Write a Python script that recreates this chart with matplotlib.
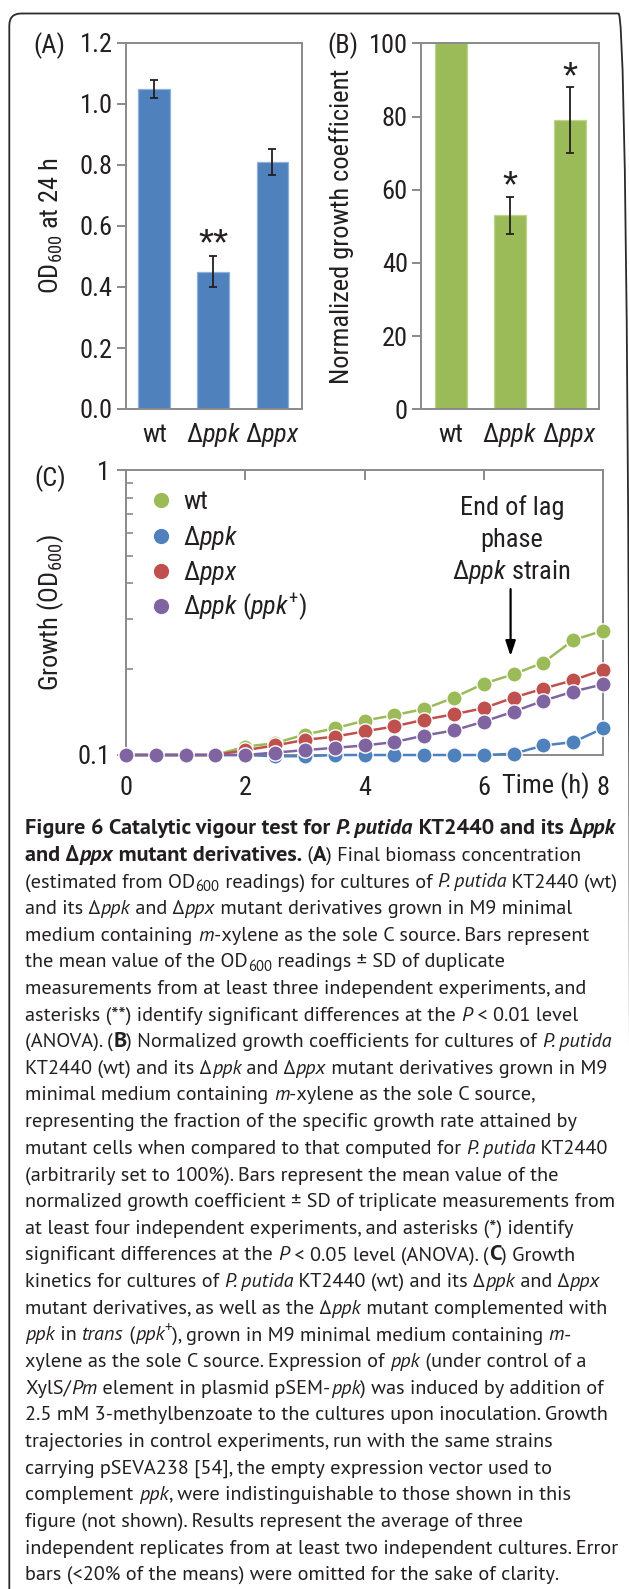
import matplotlib
matplotlib.use('Agg')
import numpy as np
import matplotlib.pyplot as plt
import matplotlib.font_manager as fm
from matplotlib.font_manager import FontProperties
from matplotlib.patches import FancyBboxPatch
from matplotlib.transforms import IdentityTransform, blended_transform_factory
from matplotlib.ticker import FixedLocator, FixedFormatter, NullFormatter

# ---------------- data ----------------
strains = ['wt', 'ppk', 'ppx']
strain_labels = ['wt', r'Δ$\mathit{ppk}$', r'Δ$\mathit{ppx}$']

od600_24h = [1.05, 0.45, 0.81]
od600_24h_sd = [0.03, 0.05, 0.043]
sig_a = ['', '**', '']
a_yticks = [0.0, 0.2, 0.4, 0.6, 0.8, 1.0, 1.2]

growth_coef = [100, 53, 79]
growth_coef_sd = [0, 5, 9]
sig_b = ['', '*', '*']
b_yticks = [0, 20, 40, 60, 80, 100]

time_h = [0, 0.5, 1, 1.5, 2, 2.5, 3, 3.5, 4, 4.5, 5, 5.5, 6, 6.5, 7, 7.5, 8]
od_wt = [0.100, 0.100, 0.100, 0.100, 0.107, 0.110, 0.118, 0.124, 0.132, 0.138,
         0.145, 0.159, 0.178, 0.192, 0.211, 0.253, 0.273]
od_ppk = [0.100, 0.100, 0.100, 0.100, 0.100, 0.099, 0.099, 0.100, 0.100, 0.100,
          0.100, 0.100, 0.100, 0.101, 0.108, 0.111, 0.124]
od_ppx = [0.100, 0.100, 0.100, 0.100, 0.104, 0.108, 0.113, 0.116, 0.121, 0.126,
          0.133, 0.139, 0.146, 0.159, 0.171, 0.183, 0.199]
od_ppk_comp = [0.100, 0.100, 0.100, 0.100, 0.100, 0.102, 0.104, 0.106, 0.108, 0.111,
               0.117, 0.122, 0.131, 0.142, 0.155, 0.167, 0.177]
c_series_labels = ['wt', r'Δ$\mathit{ppk}$', r'Δ$\mathit{ppx}$',
                   r'Δ$\mathit{ppk}$ ($\mathit{ppk}^{+}$)']
c_xticks = [0, 2, 4, 6, 8]
c_xticklabels = ['0', '2', '4', '6', '8']
c_yticks = [0.1, 1]
c_yticklabels = ['0.1', '1']
c_minor_yticks = [0.2, 0.3, 0.4, 0.5, 0.6, 0.7, 0.8, 0.9]
lag_end_time = 6.5
annotation_lines = ['End of lag', 'phase', r'Δ$\mathit{ppk}$ strain']

caption_lines = [
    [("Figure 6 Catalytic vigour test for ", 'b'), ("P. putida", 'bi'), (" KT2440 and its Δ", 'b'), ("ppk", 'bi')],
    [("and Δ", 'b'), ("ppx", 'bi'), (" mutant derivatives.", 'b'), (" (", 'r'), ("A", 'b'), (") Final biomass concentration", 'r')],
    [("(estimated from OD", 'r'), ("600", 'sub'), (" readings) for cultures of ", 'r'), ("P. putida", 'i'), (" KT2440 (wt)", 'r')],
    [("and its Δ", 'r'), ("ppk", 'i'), (" and Δ", 'r'), ("ppx", 'i'), (" mutant derivatives grown in M9 minimal", 'r')],
    [("medium containing ", 'r'), ("m", 'i'), ("-xylene as the sole C source. Bars represent", 'r')],
    [("the mean value of the OD", 'r'), ("600", 'sub'), (" readings ± SD of duplicate", 'r')],
    [("measurements from at least three independent experiments, and", 'r')],
    [("asterisks (**) identify significant differences at the ", 'r'), ("P", 'i'), (" < 0.01 level", 'r')],
    [("(ANOVA). (", 'r'), ("B", 'b'), (") Normalized growth coefficients for cultures of ", 'r'), ("P. putida", 'i')],
    [("KT2440 (wt) and its Δ", 'r'), ("ppk", 'i'), (" and Δ", 'r'), ("ppx", 'i'), (" mutant derivatives grown in M9", 'r')],
    [("minimal medium containing ", 'r'), ("m", 'i'), ("-xylene as the sole C source,", 'r')],
    [("representing the fraction of the specific growth rate attained by", 'r')],
    [("mutant cells when compared to that computed for ", 'r'), ("P. putida", 'i'), (" KT2440", 'r')],
    [("(arbitrarily set to 100%). Bars represent the mean value of the", 'r')],
    [("normalized growth coefficient ± SD of triplicate measurements from", 'r')],
    [("at least four independent experiments, and asterisks (*) identify", 'r')],
    [("significant differences at the ", 'r'), ("P", 'i'), (" < 0.05 level (ANOVA). (", 'r'), ("C", 'b'), (") Growth", 'r')],
    [("kinetics for cultures of ", 'r'), ("P. putida", 'i'), (" KT2440 (wt) and its Δ", 'r'), ("ppk", 'i'), (" and Δ", 'r'), ("ppx", 'i')],
    [("mutant derivatives, as well as the Δ", 'r'), ("ppk", 'i'), (" mutant complemented with", 'r')],
    [("ppk", 'i'), (" in ", 'r'), ("trans", 'i'), (" (", 'r'), ("ppk", 'i'), ("+", 'sup'), ("), grown in M9 minimal medium containing ", 'r'), ("m", 'i'), ("-", 'r')],
    [("xylene as the sole C source. Expression of ", 'r'), ("ppk", 'i'), (" (under control of a", 'r')],
    [("XylS/", 'r'), ("Pm", 'i'), (" element in plasmid pSEM-", 'r'), ("ppk", 'i'), (") was induced by addition of", 'r')],
    [("2.5 mM 3-methylbenzoate to the cultures upon inoculation. Growth", 'r')],
    [("trajectories in control experiments, run with the same strains", 'r')],
    [("carrying pSEVA238 [54], the empty expression vector used to", 'r')],
    [("complement ", 'r'), ("ppk", 'i'), (", were indistinguishable to those shown in this", 'r')],
    [("figure (not shown). Results represent the average of three", 'r')],
    [("independent replicates from at least two independent cultures. Error", 'r')],
    [("bars (<20% of the means) were omitted for the sake of clarity.", 'r')],
]

# ---------------- fonts ----------------
W, H, DPI = 629, 1589, 100


def _w(v):
    try:
        return int(v)
    except Exception:
        return {'bold': 700, 'normal': 400, 'regular': 400}.get(str(v).lower(), 400)


def full_family(name):
    ent = [f for f in fm.fontManager.ttflist if f.name == name]
    if not ent:
        return False
    ok_r = any(f.style == 'normal' and _w(f.weight) < 600 for f in ent)
    ok_b = any(f.style == 'normal' and _w(f.weight) >= 600 for f in ent)
    ok_i = any(f.style in ('italic', 'oblique') and _w(f.weight) < 600 for f in ent)
    ok_bi = any(f.style in ('italic', 'oblique') and _w(f.weight) >= 600 for f in ent)
    return ok_r and ok_b and ok_i and ok_bi


def pick(cands, default):
    for c in cands:
        if full_family(c):
            return c
    return default


CHART_FONT = pick(['Liberation Sans Narrow', 'Arial Narrow', 'Roboto Condensed',
                   'Archivo Narrow', 'PT Sans Narrow'], 'Liberation Sans')
CAP_FONT = pick(['Source Sans Pro', 'Source Sans 3', 'PT Sans', 'Open Sans'], 'Lato')

plt.rcParams['font.family'] = [CHART_FONT, 'DejaVu Sans']
plt.rcParams['mathtext.fontset'] = 'custom'
plt.rcParams['mathtext.rm'] = CHART_FONT
plt.rcParams['mathtext.it'] = CHART_FONT + ':italic'
plt.rcParams['mathtext.bf'] = CHART_FONT + ':bold'
plt.rcParams['mathtext.fallback'] = 'stixsans'

TXT = '#231F20'
GRAY = '#8A8A8A'
BLUE, BLUE_E = '#4F81BD', '#8EB0DA'
GREEN, GREEN_E = '#9BBB59', '#BCD48E'
RED = '#C0504D'
PURPLE = '#8064A2'
FS = 19
SPW = 1.4

fig = plt.figure(figsize=(W / DPI, H / DPI), dpi=DPI)
fig.patch.set_facecolor('white')

border = FancyBboxPatch((9.3, -40), 630.5 - 9.3, (H - 13.5) + 40,
                        boxstyle='round,pad=0,rounding_size=12',
                        transform=IdentityTransform(), fill=False,
                        ec='#2b2b2b', lw=1.3)
fig.patches.append(border)


def style_box_axes(ax):
    for sp in ax.spines.values():
        sp.set_color(GRAY)
        sp.set_linewidth(SPW)
    ax.tick_params(axis='y', direction='out', length=6.5, width=SPW, color=GRAY,
                   labelsize=FS, labelcolor=TXT, pad=3)
    ax.tick_params(axis='x', length=0, labelbottom=False)


def draw_xlabels(ax, labels, y_frac):
    tr = blended_transform_factory(ax.transData, ax.transAxes)
    for i, lab in enumerate(labels):
        ax.text(i, y_frac, lab, transform=tr, ha='center', va='baseline',
                fontsize=FS, color=TXT, clip_on=False)


xs = np.arange(len(strains))

# ---------------- panel A ----------------
axA = fig.add_axes([126 / W, 1 - 409 / H, 176 / W, 366 / H])
axA.bar(xs, od600_24h, width=0.54, color=BLUE, edgecolor=BLUE_E, linewidth=0.9, zorder=2)
axA.errorbar(xs, od600_24h, yerr=od600_24h_sd, fmt='none', ecolor=TXT,
             elinewidth=1.3, capsize=3.2, capthick=1.3, zorder=3)
axA.set_xlim(-0.48, 2.5)
axA.set_ylim(0, 1.2)
axA.set_yticks(a_yticks)
axA.set_yticklabels([f'{v:.1f}' for v in a_yticks])
style_box_axes(axA)
draw_xlabels(axA, strain_labels, -0.0893)
for i, s in enumerate(sig_a):
    if s:
        axA.annotate(s, xy=(xs[i], od600_24h[i] + od600_24h_sd[i]), xytext=(0, 0.5),
                     textcoords='offset points', ha='center', va='baseline',
                     fontsize=28, family='Liberation Sans', color=TXT)
axA.set_ylabel(r'OD$_{600}$ at 24 h', fontsize=FS, color=TXT)
axA.yaxis.set_label_coords(-0.426, 0.5)
axA.yaxis.label.set_verticalalignment('center')

# ---------------- panel B ----------------
axB = fig.add_axes([421 / W, 1 - 409.3 / H, 178.3 / W, 366 / H])
axB.bar(xs, growth_coef, width=0.54, color=GREEN, edgecolor=GREEN_E, linewidth=0.9, zorder=2)
idx = [i for i in range(len(strains)) if growth_coef_sd[i] > 0]
axB.errorbar([xs[i] for i in idx], [growth_coef[i] for i in idx],
             yerr=[growth_coef_sd[i] for i in idx], fmt='none', ecolor=TXT,
             elinewidth=1.3, capsize=3.2, capthick=1.3, zorder=3)
axB.set_xlim(-0.5, 2.5)
axB.set_ylim(0, 100)
axB.set_yticks(b_yticks)
axB.set_yticklabels([str(v) for v in b_yticks])
style_box_axes(axB)
draw_xlabels(axB, strain_labels, -0.0885)
for i, s in enumerate(sig_b):
    if s:
        axB.annotate(s, xy=(xs[i], growth_coef[i] + growth_coef_sd[i]), xytext=(0, -0.5),
                     textcoords='offset points', ha='center', va='baseline',
                     fontsize=28, family='Liberation Sans', color=TXT)
axB.set_ylabel('Normalized growth coefficient', fontsize=FS, color=TXT)
axB.yaxis.set_label_coords(-0.443, 0.5)
axB.yaxis.label.set_verticalalignment('center')

# ---------------- panel C ----------------
axC = fig.add_axes([126 / W, 1 - 755 / H, 477 / W, 285 / H])
axC.set_yscale('log')
series = [(od_wt, GREEN), (od_ppk, BLUE), (od_ppx, RED), (od_ppk_comp, PURPLE)]
for vals, col in series:
    axC.plot(time_h, vals, '-o', color=col, lw=1.8, ms=11, mfc=col, mec='white',
             mew=1.0, clip_on=False, zorder=4)
axC.set_xlim(0, 8)
axC.set_ylim(0.1, 1)
for sp in axC.spines.values():
    sp.set_color(GRAY)
    sp.set_linewidth(SPW)
    sp.set_zorder(1)
axC.yaxis.set_major_locator(FixedLocator(c_yticks))
axC.yaxis.set_major_formatter(FixedFormatter(c_yticklabels))
axC.yaxis.set_minor_locator(FixedLocator(c_minor_yticks))
axC.yaxis.set_minor_formatter(NullFormatter())
axC.tick_params(axis='y', which='major', direction='out', length=6.5, width=SPW,
                color=GRAY, labelsize=FS, labelcolor=TXT, pad=5, right=False)
axC.tick_params(axis='y', which='minor', direction='in', length=5, width=1.2,
                color=GRAY, right=False)
axC.xaxis.set_major_locator(FixedLocator(c_xticks))
axC.xaxis.set_major_formatter(FixedFormatter(c_xticklabels))
axC.xaxis.set_minor_locator(FixedLocator([7.04]))
axC.xaxis.set_minor_formatter(FixedFormatter(['Time (h)']))
axC.tick_params(axis='x', which='major', direction='in', length=7, width=SPW,
                color=GRAY, top=True, bottom=False, labelsize=FS, labelcolor=TXT, pad=15)
axC.tick_params(axis='x', which='minor', length=0, top=False, bottom=False,
                labelsize=FS, labelcolor=TXT, pad=12.5)
axC.set_ylabel(r'Growth (OD$_{600}$)', fontsize=FS, color=TXT)
axC.yaxis.set_label_coords(-0.159, 0.5)
axC.yaxis.label.set_verticalalignment('center')

leg_rows = [0.8947, 0.7684, 0.6456, 0.5228]
for (vals, col), lab, yy in zip(series, c_series_labels, leg_rows):
    axC.plot([0.0734], [yy], 'o', transform=axC.transAxes, ms=12, mfc=col,
             mec='white', mew=1.0, clip_on=False)
    axC.text(0.1195, yy - 8.5 / 285, lab, transform=axC.transAxes, ha='left',
             va='baseline', fontsize=FS, color=TXT)

trC = blended_transform_factory(axC.transData, axC.transAxes)
for line, yy in zip(annotation_lines, [0.842, 0.730, 0.618]):
    axC.text(lag_end_time - 0.03, yy, line, transform=trC, ha='center', va='baseline',
             fontsize=FS, color=TXT)
axC.annotate('', xy=(lag_end_time - 0.05, 0.347), xycoords=trC,
             xytext=(lag_end_time - 0.05, 0.582), textcoords=trC,
             arrowprops=dict(arrowstyle='-|>,head_length=0.9,head_width=0.3',
                             color='black', lw=1.6, shrinkA=0, shrinkB=0))

fig.text(33 / W, 1 - 53 / H, '(A)', fontsize=FS, color=TXT, va='baseline', ha='left')
fig.text(327 / W, 1 - 53 / H, '(B)', fontsize=FS, color=TXT, va='baseline', ha='left')
fig.text(34 / W, 1 - 486 / H, '(C)', fontsize=FS, color=TXT, va='baseline', ha='left')

# ---------------- caption ----------------
renderer = fig.canvas.get_renderer()
px_per_pt = DPI / 72.0


def cap_prop(style, size):
    weight = 'bold' if style in ('b', 'bi') else 'normal'
    fstyle = 'italic' if style in ('i', 'bi') else 'normal'
    return FontProperties(family=[CAP_FONT, 'DejaVu Sans'], size=size,
                          weight=weight, style=fstyle)


def seg_width(s, prop):
    w1, _, _ = renderer.get_text_width_height_descent('|' + s + '|', prop, ismath=False)
    w0, _, _ = renderer.get_text_width_height_descent('||', prop, ismath=False)
    return w1 - w0


# caption sizes chosen so full lines span the same width as in the figure
TARGET_W_REGULAR = 562.0   # line 7 (all regular)
TARGET_W_BOLD = 590.0      # line 1 (all bold)
w_probe = seg_width(caption_lines[6][0][0], cap_prop('r', 12.0))
CAP_SIZE = 12.0 * TARGET_W_REGULAR / w_probe
w_bold = sum(seg_width(s, cap_prop(st, 12.0)) for s, st in caption_lines[0])
BOLD_SIZE = 12.0 * TARGET_W_BOLD / w_bold

x_start = 25.4
base0 = 834.0
pitch = 26.65
for li, segs in enumerate(caption_lines):
    x = x_start
    yb = base0 + li * pitch
    for s, st in segs:
        size = BOLD_SIZE if st in ('b', 'bi') else CAP_SIZE
        dy = 0.0
        if st == 'sub':
            size = CAP_SIZE * 0.72
            dy = 0.18 * CAP_SIZE * px_per_pt
        elif st == 'sup':
            size = CAP_SIZE * 0.72
            dy = -0.40 * CAP_SIZE * px_per_pt
        prop = cap_prop(st, size)
        fig.text(x / W, 1 - (yb + dy) / H, s, fontproperties=prop, color=TXT,
                 ha='left', va='baseline')
        x += seg_width(s, prop)

fig.savefig('out.png', dpi=DPI, facecolor='white')
